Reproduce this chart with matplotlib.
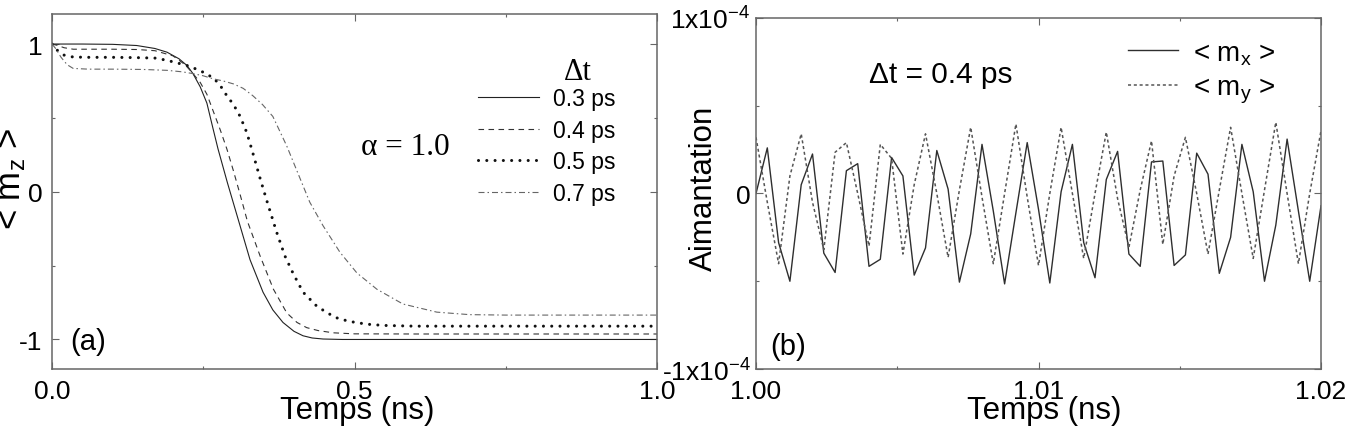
import numpy as np
import matplotlib.pyplot as plt

plt.rcParams['font.family'] = ['Liberation Sans', 'DejaVu Sans']
plt.rcParams['mathtext.fontset'] = 'custom'
plt.rcParams['mathtext.rm'] = 'Liberation Sans'
plt.rcParams['mathtext.it'] = 'Liberation Sans'
plt.rcParams['mathtext.bf'] = 'Liberation Sans:bold'

# ---- panel (a): <m_z> vs time for several time steps ----
dt_labels = ['0.3 ps', '0.4 ps', '0.5 ps', '0.7 ps']

t_03 = [0, 0.05, 0.10, 0.14, 0.17, 0.19, 0.21, 0.223, 0.233, 0.245, 0.256, 0.266, 0.2744, 0.29,
        0.3058, 0.3273, 0.3488, 0.365, 0.3818, 0.40, 0.4149, 0.43, 0.448, 0.48, 0.6, 0.8, 1.0]
m_03 = [1.0, 1.0, 0.998, 0.99, 0.97, 0.945, 0.90, 0.855, 0.80, 0.71, 0.60, 0.43, 0.29, 0.06,
        -0.16, -0.46, -0.68, -0.80, -0.885, -0.945, -0.975, -0.99, -0.997, -1.0, -1.0, -1.0, -1.0]

t_04 = [0, 0.01, 0.02, 0.035, 0.06, 0.10, 0.14, 0.17, 0.20, 0.22, 0.233, 0.245, 0.256, 0.267, 0.278,
        0.289, 0.30, 0.311, 0.323, 0.344, 0.366, 0.388, 0.405, 0.421, 0.44, 0.465, 0.5, 0.6, 0.8, 1.0]
m_04 = [1.0, 0.99, 0.975, 0.965, 0.965, 0.965, 0.963, 0.955, 0.92, 0.86, 0.80, 0.74, 0.66, 0.54, 0.42,
        0.29, 0.14, -0.02, -0.2, -0.435, -0.66, -0.82, -0.885, -0.92, -0.94, -0.955, -0.962, -0.963, -0.963, -0.963]

t_05 = [0, 0.008, 0.02, 0.035, 0.06, 0.10, 0.14, 0.17, 0.19, 0.223, 0.245, 0.267, 0.278, 0.289, 0.30,
        0.311, 0.322, 0.33, 0.344, 0.355, 0.371, 0.385, 0.399, 0.415, 0.4375, 0.455, 0.47, 0.487,
        0.504, 0.525, 0.548, 0.6, 0.8, 1.0]
m_05 = [1.0, 0.96, 0.925, 0.912, 0.91, 0.91, 0.908, 0.905, 0.89, 0.855, 0.82, 0.77, 0.72, 0.65, 0.59,
        0.51, 0.40, 0.29, 0.09, -0.06, -0.27, -0.435, -0.557, -0.68, -0.774, -0.82, -0.853, -0.873,
        -0.887, -0.898, -0.905, -0.91, -0.91, -0.91]

t_07 = [0, 0.006, 0.015, 0.025, 0.035, 0.06, 0.10, 0.15, 0.19, 0.215, 0.233, 0.25, 0.266, 0.283, 0.30,
        0.316, 0.332, 0.348, 0.365, 0.388, 0.407, 0.426, 0.448, 0.476, 0.504, 0.537, 0.58, 0.636,
        0.69, 0.75, 0.85, 1.0]
m_07 = [1.0, 0.97, 0.91, 0.86, 0.835, 0.83, 0.83, 0.828, 0.822, 0.812, 0.80, 0.785, 0.765, 0.75, 0.73,
        0.70, 0.65, 0.59, 0.51, 0.31, 0.12, -0.07, -0.23, -0.41, -0.55, -0.66, -0.76, -0.815,
        -0.832, -0.835, -0.835, -0.835]

# ---- panel (b): <m_x>, <m_y> (units of 1e-4), sampled every 0.4 ps ----
t_b = [1.0000, 1.0004, 1.0008, 1.0012, 1.0016, 1.0020, 1.0024, 1.0028, 1.0032, 1.0036,
       1.0040, 1.0044, 1.0048, 1.0052, 1.0056, 1.0060, 1.0064, 1.0068, 1.0072, 1.0076,
       1.0080, 1.0084, 1.0088, 1.0092, 1.0096, 1.0100, 1.0104, 1.0108, 1.0112, 1.0116,
       1.0120, 1.0124, 1.0128, 1.0132, 1.0136, 1.0140, 1.0144, 1.0148, 1.0152, 1.0156,
       1.0160, 1.0164, 1.0168, 1.0172, 1.0176, 1.0180, 1.0184, 1.0188, 1.0192, 1.0196, 1.0200]
mx = [0.00, 0.26, -0.28, -0.50, 0.05, 0.225, -0.34, -0.45, 0.13, 0.17,
      -0.415, -0.375, 0.205, 0.10, -0.465, -0.31, 0.245, 0.025, -0.505, -0.23,
      0.28, -0.10, -0.515, -0.11, 0.29, -0.09, -0.51, 0.01, 0.28, -0.28,
      -0.48, 0.08, 0.24, -0.345, -0.415, 0.18, 0.185, -0.41, -0.35, 0.23,
      0.11, -0.455, -0.25, 0.28, 0.01, -0.50, -0.18, 0.31, -0.10, -0.50, -0.07]
my = [0.32, -0.05, -0.40, 0.10, 0.34, -0.05, -0.32, 0.235, 0.29, 0.0,
      -0.30, 0.28, 0.20, -0.345, 0.05, 0.34, 0.0, -0.364, 0.02, 0.377,
      -0.02, -0.40, 0.0, 0.396, -0.02, -0.41, 0.0, 0.377, 0.0, -0.37,
      0.0, 0.35, -0.03, -0.307, 0.02, 0.30, -0.29, 0.10, 0.32, 0.0,
      -0.345, 0.02, 0.377, 0.0, -0.37, 0.02, 0.406, 0.0, -0.40, 0.0, 0.358]
scale_b = 1e-4

fig = plt.figure(figsize=(13.49, 4.31), dpi=100)
ax1 = fig.add_axes([0.03855, 0.14153, 0.44848, 0.82251])
ax2 = fig.add_axes([0.56042, 0.14153, 0.41883, 0.81439])

frame_col = '#666666'
for ax in (ax1, ax2):
    for s in ax.spines.values():
        s.set_color(frame_col)
        s.set_linewidth(1.1)
    ax.tick_params(which='both', direction='in', top=True, right=True, color=frame_col,
                   labelsize=19, pad=7)
    ax.tick_params(which='major', length=5, width=0.8)
    ax.tick_params(which='minor', length=2.5, width=0.8)

# panel (a)
ax1.plot(t_03, m_03, color='#222222', lw=0.8, label=dt_labels[0])
ax1.plot(t_04, m_04, color='#333333', lw=0.8, linestyle=(0, (5, 4)), label=dt_labels[1])
ax1.plot(t_05, m_05, color='#111111', lw=2.2, linestyle=(0, (0.01, 2.7)),
         dash_capstyle='round', label=dt_labels[2])
ax1.plot(t_07, m_07, color='#666666', lw=0.8, linestyle=(0, (5.4, 2.7, 1.35, 2.7)), label=dt_labels[3])

ax1.set_xlim(0, 1.0)
ax1.set_ylim(-1.2, 1.2)
ax1.set_xticks([0, 0.5, 1.0])
ax1.set_xticklabels(['0.0', '0.5', '1.0'])
ax1.set_xticks([0.25, 0.75], minor=True)
ax1.set_yticks([-1, 0, 1])
ax1.set_yticklabels(['-1', '0', '1'])
ax1.set_yticks([-0.5, 0.5], minor=True)

ax1.set_xlabel('Temps (ns)', fontsize=22.5, va='top')
ax1.xaxis.set_label_coords(0.505, -0.073)
ax1.set_ylabel('< m$_z$ >', fontsize=25)
ax1.yaxis.set_label_coords(-0.040, 0.539)

ax1.legend(loc='upper left', bbox_to_anchor=(0.704, 0.7955), frameon=False, fontsize=16.5,
           borderpad=0, borderaxespad=0, handlelength=2.66, handletextpad=0.61, labelspacing=0.38)
ax1.text(0.8694, 0.8406, '\u0394t', transform=ax1.transAxes, ha='center', va='center',
         fontsize=22, family='Liberation Serif')
ax1.text(0.5835, 0.629, '\u03b1 = 1.0', transform=ax1.transAxes, ha='center', va='center',
         fontsize=22.5, family='Liberation Serif')
ax1.text(0.0298, 0.079, '(a)', transform=ax1.transAxes, ha='left', va='center', fontsize=21)

# panel (b)
ax2.plot(t_b, np.array(mx) * scale_b, color='#2e2e2e', lw=1.0, label='< m$_x$ >')
ax2.plot(t_b, np.array(my) * scale_b, color='#555555', lw=1.1, linestyle=(0, (2, 1.8)),
         label='< m$_y$ >')

ax2.set_xlim(1.00, 1.02)
ax2.set_ylim(-1e-4, 1e-4)
ax2.set_xticks([1.00, 1.01, 1.02])
ax2.set_xticklabels(['1.00', '1.01', '1.02'])
ax2.set_xticks([1.005, 1.015], minor=True)
ax2.set_yticks([-1e-4, 0, 1e-4])
ax2.set_yticklabels(['-1x10$^{-4}$', '0', '1x10$^{-4}$'])
ax2.set_yticks([-0.5e-4, 0.5e-4], minor=True)
ax2.tick_params(axis='y', pad=4)

ax2.set_xlabel('Temps (ns)', fontsize=22.5, va='top')
ax2.xaxis.set_label_coords(0.511, -0.074)
ax2.set_ylabel('Aimantation', fontsize=22.5)
ax2.yaxis.set_label_coords(-0.0655, 0.5185)

ax2.legend(loc='upper left', bbox_to_anchor=(0.658, 0.937), frameon=False, fontsize=20,
           borderpad=0, borderaxespad=0, handlelength=1.8, handletextpad=0.54, labelspacing=0.3)
ax2.text(0.200, 0.8405, '\u0394t = 0.4 ps', transform=ax2.transAxes, ha='left', va='center',
         fontsize=21.5)
ax2.text(0.0248, 0.0655, '(b)', transform=ax2.transAxes, ha='left', va='center', fontsize=21)

fig.savefig('out.png', dpi=100)
